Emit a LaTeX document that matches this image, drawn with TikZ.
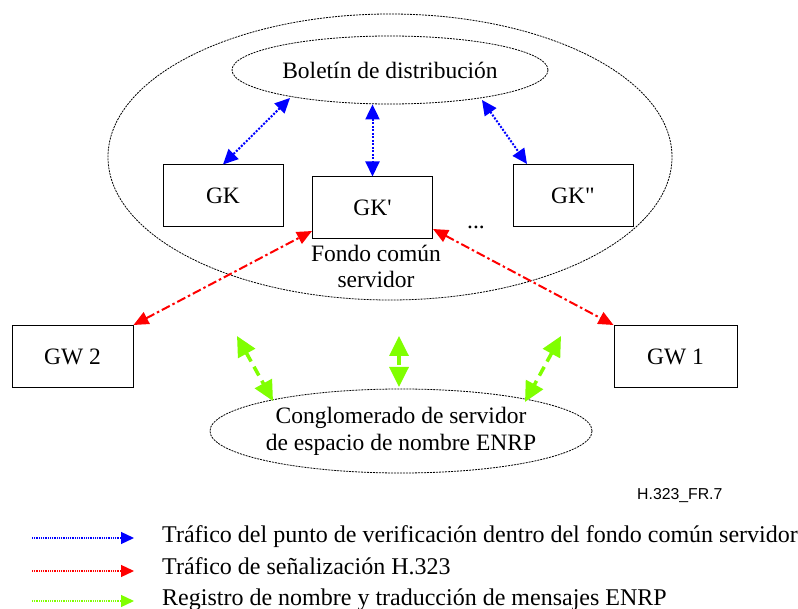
\documentclass[tikz,border=0pt]{standalone}
\usepackage{fontspec}
\setmainfont{Liberation Serif}
\setsansfont{Liberation Sans}
\newfontfamily\qfont{Liberation Serif}
\usetikzlibrary{arrows.meta,shapes.geometric}
\definecolor{blu}{RGB}{0,0,255}
\definecolor{rd}{RGB}{255,0,0}
\definecolor{grn}{RGB}{128,255,0}
\newcommand{\sq}{{\qfont '}}
\newcommand{\dq}{{\qfont "}}
\tikzset{
  box/.style={draw,line width=1pt,minimum width=120pt,minimum height=62pt,inner sep=0pt,font=\fontsize{23.5}{27}\selectfont},
  ell/.style={draw,ellipse,dash pattern=on 2pt off 1pt,line width=0.8pt,inner sep=0pt},
  lbl/.style={font=\fontsize{23.5}{27}\selectfont,align=center},
  bluarr/.style={blu,line width=2pt,dash pattern=on 2pt off 1.5pt,{Triangle[length=15pt,width=14pt]}-{Triangle[length=15pt,width=14pt]}},
  redarr/.style={rd,line width=2pt,dash pattern=on 9pt off 3pt on 2.5pt off 3pt,{Triangle[length=15pt,width=13pt]}-{Triangle[length=15pt,width=13pt]}},
  grnarr/.style={grn,line width=3.5pt,dash pattern=on 10pt off 6pt,{Triangle[length=20pt,width=19pt]}-{Triangle[length=20pt,width=19pt]}},
  legline/.style={line width=1.3pt,dash pattern=on 1pt off 0.8pt,-{Triangle[length=13pt,width=12pt]}},
  legtxt/.style={anchor=base west,font=\fontsize{24}{27}\selectfont,inner sep=0pt}
}
\begin{document}
\begin{tikzpicture}[x=1pt,y=-1pt]
\useasboundingbox (0,0) rectangle (798,609);
% ellipses
\node[ell,minimum width=564pt,minimum height=286pt] (pool) at (390,157) {};
\node[ell,minimum width=316pt,minimum height=68pt,lbl] (bul) at (390,70) {Boletín de distribución};
\node[ell,minimum width=382pt,minimum height=84pt,lbl] (enrp) at (401,431) {Conglomerado de servidor\\de espacio de nombre ENRP};
% boxes
\node[box] (gk) at (223,196) {GK};
\node[box] (gkp) at (372.5,208) {GK\sq};
\node[box] (gkpp) at (573,196) {GK\dq};
\node[box,minimum width=121pt] (gw2) at (72.5,356.5) {GW 2};
\node[box,minimum width=123pt] (gw1) at (675.5,356.5) {GW 1};
\node[lbl,inner sep=0pt,anchor=base] (dots) at (476,229) {...};
\node[lbl,inner sep=0pt,anchor=north] (fondo) at (376,245) {Fondo común\\[-1pt]servidor};
% blue
\coordinate (b1a) at (290,98);
\coordinate (b3a) at (482,100);
\coordinate (b3b) at (527,164);
\draw[bluarr] (b1a) -- (gk.north);
\draw[bluarr] (bul.south -| gkp.north) -- (gkp.north);
\draw[bluarr] (b3a) -- (b3b);
% red
\coordinate (r1) at (312,231);
\coordinate (r2) at (433,229);
\draw[redarr] (gw2.north east) -- (r1);
\draw[redarr] (r2) -- (gw1.north west);
% green
\coordinate (g1a) at (237,336);
\coordinate (g1b) at (273,401);
\coordinate (g2a) at (399,336);
\coordinate (g2b) at (399,387);
\coordinate (g3a) at (561,336);
\coordinate (g3b) at (525,402);
\draw[grnarr] (g1a) -- (g1b);
\draw[grnarr] (g2a) -- (g2b);
\draw[grnarr] (g3a) -- (g3b);
% figure id
\node[font=\sffamily\fontsize{15.8}{18}\selectfont,anchor=base west,inner sep=0pt] (fig) at (637,499) {H.323\_FR.7};
% legend
\coordinate (l1a) at (32,538); \coordinate (l1b) at (134,538);
\coordinate (l2a) at (32,571); \coordinate (l2b) at (134,571);
\coordinate (l3a) at (32,601); \coordinate (l3b) at (134,601);
\draw[legline,blu] (l1a) -- (l1b);
\draw[legline,rd] (l2a) -- (l2b);
\draw[legline,grn] (l3a) -- (l3b);
\node[legtxt] (t1) at (162,542) {Tráfico del punto de verificación dentro del fondo común servidor};
\node[legtxt] (t2) at (162,574.5) {Tráfico de señalización H.323};
\node[legtxt] (t3) at (162,605) {Registro de nombre y traducción de mensajes ENRP};
\end{tikzpicture}
\end{document}
